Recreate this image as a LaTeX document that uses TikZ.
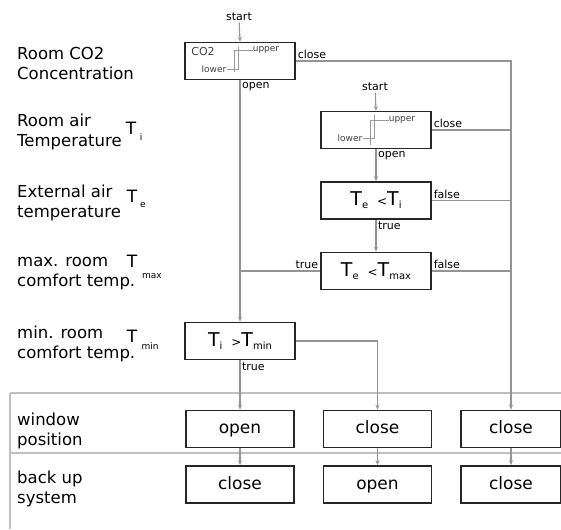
\documentclass[tikz,border=0pt]{standalone}
\usepackage{fontspec}
\setmainfont{DejaVu Sans}
\usepackage{tikz}
\usetikzlibrary{arrows.meta,positioning}

\newcommand{\lowtxt}[1]{\raisebox{-3pt}{\fontsize{10}{10}\selectfont #1}}

\begin{document}
\begin{tikzpicture}[x=1pt,y=-1pt,>={Stealth[length=5pt,width=4pt]},
  box/.style={draw=black!85, line width=1.5pt, minimum width=110pt, minimum height=37pt, inner sep=0pt, text height=12pt, text depth=3pt, font=\fontsize{17}{20}\selectfont},
  cmp/.style={box, font=\fontsize{19}{22}\selectfont, text height=14pt, text depth=4pt},
  act/.style={box, minimum width=108pt},
  lbl/.style={anchor=west, align=left, inner sep=0pt, font=\fontsize{16.5}{20}\selectfont},
  sym/.style={inner sep=0pt, font=\fontsize{17}{17}\selectfont},
  symsub/.style={inner sep=0pt, font=\fontsize{9}{9}\selectfont},
  ann/.style={font=\fontsize{11}{12}\selectfont, inner sep=1.5pt},
  inlbl/.style={inner sep=0pt, font=\fontsize{9}{10}\selectfont, text=black!75},
  hyst/.style={draw=black!40, line width=0.6pt},
  wire/.style={draw=black!42, line width=1.1pt},
  sep/.style={draw=black!25, line width=1.8pt}]
\useasboundingbox (0,0) rectangle (561,529);

% row labels
\node[lbl] (co2lbl) at (17,63) {Room CO2\\Concentration};
\node[lbl] (tairlbl) at (17,132) {Room air\\Temperature};
\node[lbl] (telbl) at (17,203) {External air\\temperature};
\node[lbl] (tmaxlbl) at (17,274) {max. room\\comfort temp.};
\node[lbl] (tminlbl) at (17,344) {min. room\\comfort temp.};
\node[lbl] (winlbl) at (17,431) {window\\position};
\node[lbl] (backlbl) at (17,489) {back up\\system};

\node[sym] (tisym) at (131,128) {T};
\node[symsub] (tisub) at (141,137) {i};
\node[sym] (tesym) at (132,196) {T};
\node[symsub] (tesub) at (143,205) {e};
\node[sym] (tmaxsym) at (132,261) {T};
\node[symsub] (tmaxsub) at (152,276) {max};
\node[sym] (tminsym) at (132,336) {T};
\node[symsub] (tminsub) at (150,346) {min};

% controllers
\node[ann] (start1) at (239,17) {start};
\node[box] (co2) at (240,61) {};
\node[inlbl, font=\fontsize{11}{12}\selectfont] (co2txt) at (203,51) {CO2};
\node[inlbl] (co2up) at (266,50) {upper};
\node[inlbl] (co2low) at (214,69) {lower};
\draw[hyst] (co2low.east) -- (238,69) -- (238,47);
\draw[hyst] (234,72) -- (234,50) -- (co2up.west);

\node[ann] (start2) at (375,87) {start};
\node[box] (tair) at (376,130) {};
\node[inlbl] (tairup) at (402,120) {upper};
\node[inlbl] (tairlow) at (350,138) {lower};
\draw[hyst] (tairlow.east) -- (374,138) -- (374,115);
\draw[hyst] (370,145) -- (370,120) -- (tairup.west);

\node[cmp, below=32pt of tair] (teti) {T\lowtxt{e}\hspace{9pt}{\fontsize{12}{12}\selectfont<}T\lowtxt{i}};
\node[cmp, below=32pt of teti] (tetmax) {T\lowtxt{e}\hspace{9pt}{\fontsize{12}{12}\selectfont<}T\lowtxt{max}};
\node[cmp] (tmin) at (240,341) {T\lowtxt{i}\hspace{9pt}{\fontsize{12}{12}\selectfont>}T\lowtxt{min}};

% actions
\node[act] (w1) at (240,429) {open};
\node[act, right=28pt of w1] (w2) {close};
\node[act, right=28pt of w2, minimum width=100pt] (w3) {close};
\node[act, below=17pt of w1] (b1) {close};
\node[act, below=17pt of w2] (b2) {open};
\node[act, below=17pt of w3, minimum width=100pt] (b3) {close};

% table lines
\draw[sep] (10,393) -- (561,393);
\draw[sep] (10,453) -- (561,453);
\draw[sep] (10,393) -- (10,529);

% connectors
\draw[wire,->] (start1) -- (co2.north);
\draw[wire,->] (co2.south) -- (tmin.north) node[ann, at start, below right] {open};
\draw[wire,->] (co2.east) -- (co2.east -| w3.north) node[ann, at start, above right] {close} -- (w3.north);
\draw[wire,->] (start2) -- (tair.north);
\draw[wire,->] (tair.south) -- (teti.north) node[ann, at start, below right] {open};
\draw[wire] (tair.east) -- (tair.east -| w3.north) node[ann, at start, above right] {close};
\draw[wire,->] (teti.south) -- (tetmax.north) node[ann, at start, below right] {true};
\draw[wire] (teti.east) -- (teti.east -| w3.north) node[ann, at start, above right] {false};
\draw[wire] (tetmax.east) -- (tetmax.east -| w3.north) node[ann, at start, above right] {false};
\draw[wire] (tetmax.west) -- (tetmax.west -| co2.south) node[ann, at start, above left] {true};
\draw[wire,->] (tmin.east) -| (w2.north);
\draw[wire,->] (tmin.south) -- (w1.north) node[ann, at start, below right] {true};
\foreach \i in {1,2,3}
  \draw[wire,->] (w\i.south) -- (b\i.north);
\end{tikzpicture}
\end{document}
